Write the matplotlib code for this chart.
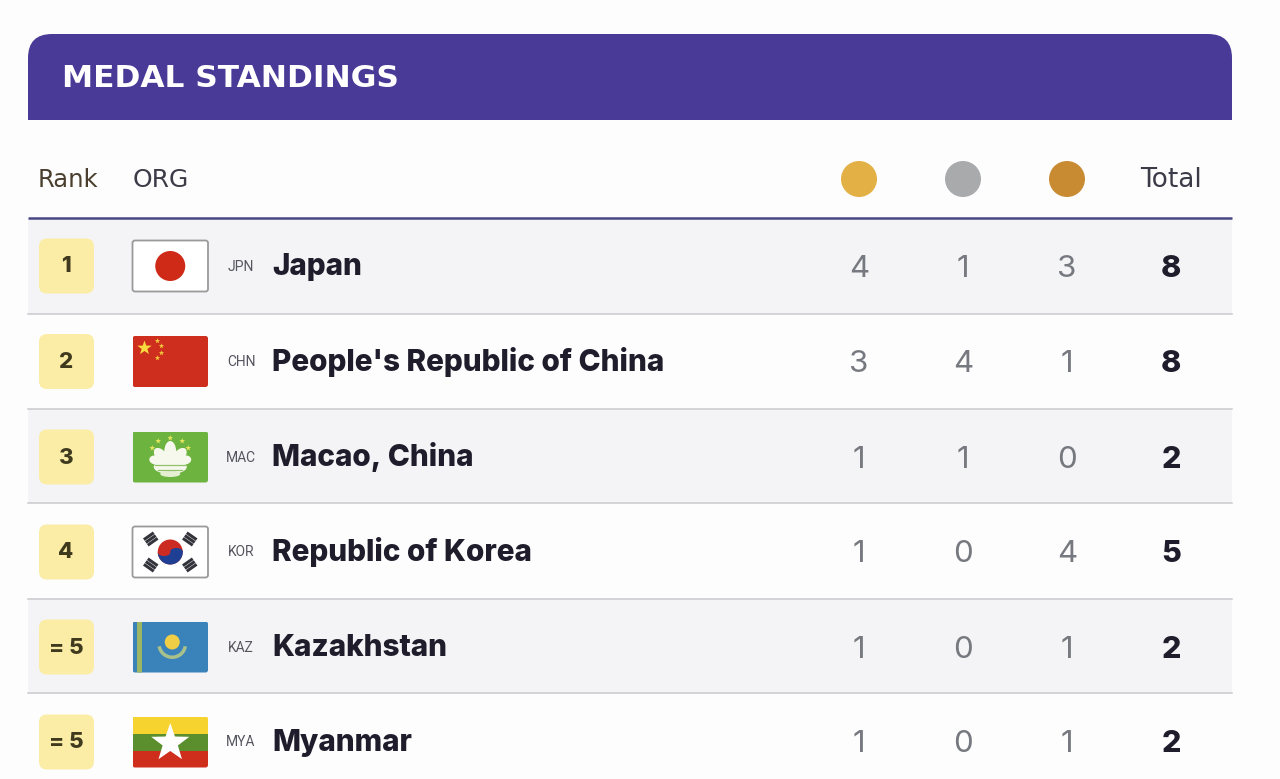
import numpy as np
import matplotlib
matplotlib.use("Agg")
import matplotlib.pyplot as plt
from matplotlib.patches import Rectangle, FancyBboxPatch, Circle, Polygon, Ellipse, Wedge

ranks = ["1", "2", "3", "4", "= 5", "= 5"]
codes = ["JPN", "CHN", "MAC", "KOR", "KAZ", "MYA"]
names = ["Japan", "People's Republic of China", "Macao, China",
         "Republic of Korea", "Kazakhstan", "Myanmar"]
gold = [4, 3, 1, 1, 1, 1]
silver = [1, 4, 1, 0, 0, 0]
bronze = [3, 1, 0, 4, 1, 1]
total = [8, 8, 2, 5, 2, 2]

row_centers = [266, 361.5, 457, 552, 647, 742]
row_lines = [314, 409, 503, 599, 693]
medal_x = [859, 963, 1067]
total_x = 1171
medal_colors = ["#E3B045", "#A9AAAC", "#C98B32"]
INK = "#1F1D2B"

fig = plt.figure(figsize=(12.8, 7.79), dpi=100, facecolor="#FDFDFE")
ax = fig.add_axes([0, 0, 1, 1])
ax.set_xlim(0, 1280)
ax.set_ylim(779, 0)
ax.axis("off")


def star(cx, cy, r, color, z=5, rot=0):
    a = np.deg2rad(np.arange(10) * 36 - 90 + rot)
    rad = np.where(np.arange(10) % 2 == 0, r, r * 0.40)
    ax.add_patch(Polygon(np.c_[cx + rad * np.cos(a), cy + rad * np.sin(a)],
                         closed=True, fc=color, ec="none", zorder=z))


def rect(x, y, w, h, color, z=4):
    ax.add_patch(Rectangle((x, y), w, h, fc=color, ec="none", zorder=z))


def bar(cx, cy, length, thick, angle, color, z=5):
    """A bar centred on (cx, cy), turned by angle degrees."""
    t = np.deg2rad(angle)
    u = np.array([np.cos(t), np.sin(t)]) * length / 2
    v = np.array([-np.sin(t), np.cos(t)]) * thick / 2
    c = np.array([cx, cy])
    ax.add_patch(Polygon([c - u - v, c + u - v, c + u + v, c - u + v], closed=True,
                         fc=color, ec="none", zorder=z))


# header band
head = FancyBboxPatch((28, 34), 1204, 130, boxstyle="round,pad=0,rounding_size=24",
                      fc="#4A3A97", ec="none", zorder=2)
ax.add_patch(head)
head.set_clip_path(Rectangle((28, 34), 1204, 86, transform=ax.transData))
ax.text(62, 87, "MEDAL STANDINGS", color="white", fontsize=22.5, fontweight="bold",
        family="DejaVu Sans", va="baseline", ha="left", zorder=3)

# column headings
ax.text(38, 187, "Rank", color="#4A3F2E", fontsize=17.5, family="DejaVu Sans", va="baseline")
ax.text(133, 187, "ORG", color="#3C3B48", fontsize=18, family="DejaVu Sans", va="baseline")
ax.text(1171, 187, "Total", color="#3C3B48", fontsize=19, family="DejaVu Sans", va="baseline", ha="center")
for mx, mc in zip(medal_x, medal_colors):
    ax.add_patch(Circle((mx, 179), 18, fc=mc, ec="none", zorder=3))

# row stripes and rules
edges = [219] + row_lines + [779]
for i in range(6):
    if i % 2 == 0:
        rect(28, edges[i], 1204, edges[i + 1] - edges[i], "#F4F4F6", z=1)
ax.plot([28, 1232], [218, 218], color="#4A4785", lw=1.8, zorder=2, solid_capstyle="butt")
for y in row_lines:
    ax.plot([28, 1232], [y, y], color="#C9CACE", lw=1.1, zorder=2)


def flag_jpn(x, y, w, h):
    rect(x, y, w, h, "white")
    ax.add_patch(Circle((x + w / 2, y + h / 2), 15, fc="#CF2A17", ec="none", zorder=5))


def flag_chn(x, y, w, h):
    rect(x, y, w, h, "#CE2E1D")
    star(x + 12, y + 12, 7.5, "#F8DC3E")
    for dx, dy in [(25, 5), (29, 10), (29, 17), (25, 22)]:
        star(x + dx, y + dy, 2.8, "#F3C83A")


def flag_mac(x, y, w, h):
    rect(x, y, w, h, "#6DB33F")
    cx, cy = x + w / 2, y + h / 2
    white = "#F6F8EE"
    # lotus petals
    ax.add_patch(Ellipse((cx, cy - 5), 12, 22, fc=white, ec="none", zorder=5))
    ax.add_patch(Ellipse((cx - 9, cy - 1), 11, 19, angle=-40, fc=white, ec="none", zorder=5))
    ax.add_patch(Ellipse((cx + 9, cy - 1), 11, 19, angle=40, fc=white, ec="none", zorder=5))
    ax.add_patch(Ellipse((cx - 15, cy + 3), 12, 9, angle=10, fc=white, ec="none", zorder=5))
    ax.add_patch(Ellipse((cx + 15, cy + 3), 12, 9, angle=-10, fc=white, ec="none", zorder=5))
    # bridge and water
    ax.add_patch(Ellipse((cx, cy + 10), 33, 14, fc=white, ec="none", zorder=5))
    ax.add_patch(Ellipse((cx, cy + 17), 20, 6, fc="#E4EFD2", ec="none", zorder=5))
    ax.plot([cx - 15, cx + 15], [cy + 8, cy + 8], color="#8FC266", lw=0.9, zorder=6)
    ax.plot([cx - 12, cx + 12], [cy + 13, cy + 13], color="#8FC266", lw=0.9, zorder=6)
    for dx, dy in [(0, -19), (-12, -16), (12, -16), (-18, -9), (18, -9)]:
        star(cx + dx, cy + dy, 3, "#E6E65E")


def flag_kor(x, y, w, h):
    rect(x, y, w, h, "white")
    cx, cy = x + w / 2, y + h / 2
    ax.add_patch(Circle((cx, cy), 12.5, fc="#CC2B23", ec="none", zorder=5))
    ax.add_patch(Wedge((cx, cy), 12.5, -5, 175, fc="#1F3F94", ec="none", zorder=6))
    ax.add_patch(Ellipse((cx + 6.2, cy - 0.5), 12.4, 7, fc="#1F3F94", ec="none", zorder=7))
    ax.add_patch(Ellipse((cx - 6.2, cy + 0.5), 12.4, 7, fc="#CC2B23", ec="none", zorder=7))
    for sx, sy in [(-1, -1), (1, -1), (-1, 1), (1, 1)]:
        angle = -35 * sx * sy
        n = np.deg2rad(angle + 90)
        for k in (-3.4, 0, 3.4):
            bar(cx + sx * 19.5 + k * np.cos(n), cy + sy * 13 + k * np.sin(n),
                12, 3, angle, "#33333B")


def flag_kaz(x, y, w, h):
    rect(x, y, w, h, "#3A82BA")
    rect(x + 4, y, 5, h, "#9CB663", z=5)
    cx, cy = x + w / 2 + 2, y + h / 2
    ax.add_patch(Circle((cx, cy - 5), 7.5, fc="#F0CE46", ec="none", zorder=6))
    ax.add_patch(Wedge((cx, cy - 3), 15, 10, 170, width=3.5, fc="#A8C08A", ec="none", zorder=5))


def flag_mya(x, y, w, h):
    rect(x, y, w, h / 3, "#F6D32E")
    rect(x, y + h / 3, w, h / 3, "#5B8F2E")
    rect(x, y + 2 * h / 3, w, h / 3, "#CF2E1D")
    star(x + w / 2, y + h / 2 + 1, 20, "white")


flags = [flag_jpn, flag_chn, flag_mac, flag_kor, flag_kaz, flag_mya]
bordered = {0, 3}

for i, yc in enumerate(row_centers):
    ax.add_patch(FancyBboxPatch((39, yc - 27.5), 55, 55, boxstyle="round,pad=0,rounding_size=8",
                                fc="#FBEDA6", ec="none", zorder=3))
    ax.text(66, yc + 0.5, ranks[i], color="#3F3A1E", fontsize=16, fontweight="heavy",
            family="Inter", ha="center", va="center", zorder=4)

    # flag, trimmed to a slightly rounded outline
    x0, y0, w0, h0 = 132.5, yc - 25.5, 75.5, 51
    n0 = len(ax.patches)
    flags[i](x0, y0, w0, h0)
    outline = FancyBboxPatch((x0, y0), w0, h0, boxstyle="round,pad=0,rounding_size=2.5",
                             fc="none", ec="#9A9A9A" if i in bordered else "none",
                             lw=1.3, zorder=8)
    ax.add_patch(outline)
    clip = FancyBboxPatch((x0, y0), w0, h0, boxstyle="round,pad=0,rounding_size=2.5",
                          transform=ax.transData)
    for p in ax.patches[n0:-1]:
        p.set_clip_path(clip)

    ax.text(241, yc + 4.5, codes[i], color="#55555F", fontsize=10, ha="center", va="baseline",
            family=["Liberation Sans Narrow", "Roboto"], zorder=4)
    ax.text(272, yc + 9, names[i], color=INK, fontsize=21.4, fontweight="heavy",
            family="Inter", ha="left", va="baseline", zorder=4)
    for mx, val in zip(medal_x, (gold[i], silver[i], bronze[i])):
        ax.text(mx, yc + 10.5, str(val), color="#777980", fontsize=22.5, family="Inter",
                ha="center", va="baseline", zorder=4)
    ax.text(total_x, yc + 10.5, str(total[i]), color=INK, fontsize=22, fontweight="heavy",
            family="Inter", ha="center", va="baseline", zorder=4)

fig.savefig("out.png", dpi=100, facecolor=fig.get_facecolor())
